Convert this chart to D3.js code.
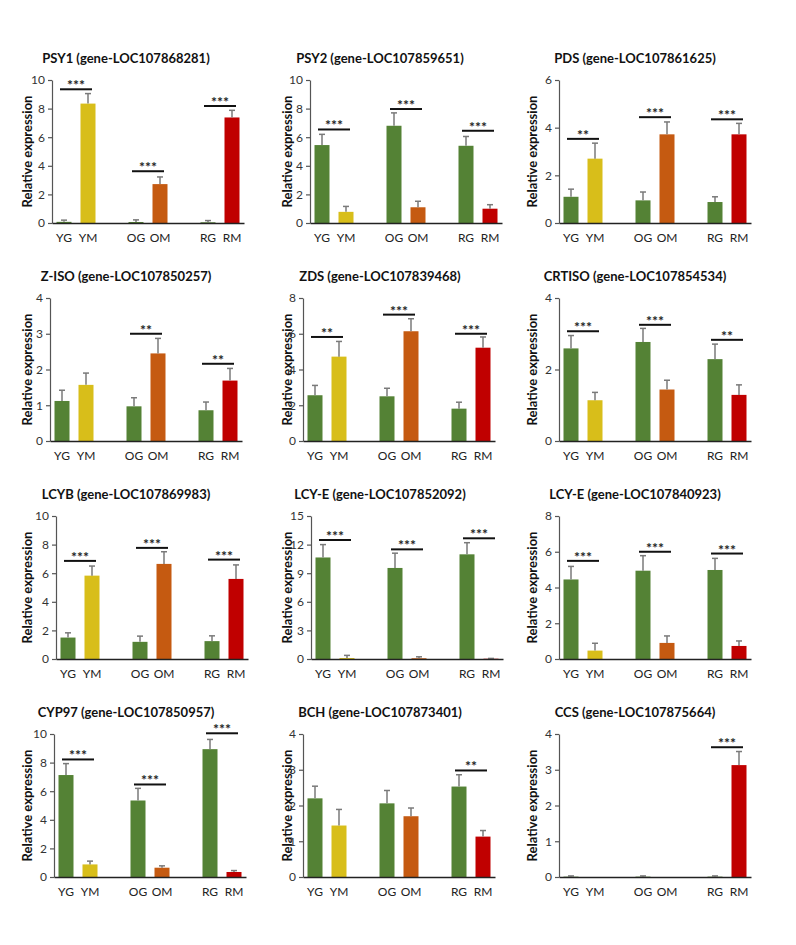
<!DOCTYPE html>
<html>
<head>
<meta charset="utf-8">
<script src="https://cdn.jsdelivr.net/npm/d3@7"></script>
<style>
  html, body { margin: 0; padding: 0; background: #fff; }
  svg { display: block; }
</style>
</head>
<body>
<svg id="chart" width="796" height="945"></svg>
<script>
// ---------------- DATA ----------------
const categories = ["YG", "YM", "OG", "OM", "RG", "RM"];
const genes = [
  "PSY1 (gene-LOC107868281)", "PSY2 (gene-LOC107859651)", "PDS (gene-LOC107861625)",
  "Z-ISO (gene-LOC107850257)", "ZDS (gene-LOC107839468)", "CRTISO (gene-LOC107854534)",
  "LCYB (gene-LOC107869983)", "LCY-E (gene-LOC107852092)", "LCY-E (gene-LOC107840923)",
  "CYP97 (gene-LOC107850957)", "BCH (gene-LOC107873401)", "CCS (gene-LOC107875664)"
];
const yTicks = [
  [0, 2, 4, 6, 8, 10], [0, 2, 4, 6, 8, 10], [0, 2, 4, 6],
  [0, 1, 2, 3, 4], [0, 2, 4, 6, 8], [0, 2, 4],
  [0, 2, 4, 6, 8, 10], [0, 3, 6, 9, 12, 15], [0, 2, 4, 6, 8],
  [0, 2, 4, 6, 8, 10], [0, 1, 2, 3, 4], [0, 1, 2, 3, 4]
];
const means = [
  [0.08, 8.35, 0.07, 2.72, 0.05, 7.38],
  [5.45, 0.78, 6.80, 1.10, 5.40, 1.00],
  [1.10, 2.70, 0.95, 3.72, 0.88, 3.72],
  [1.12, 1.57, 0.97, 2.45, 0.86, 1.69],
  [2.56, 4.72, 2.50, 6.14, 1.81, 5.22],
  [2.59, 1.14, 2.77, 1.44, 2.29, 1.29],
  [1.50, 5.83, 1.20, 6.65, 1.25, 5.60],
  [10.65, 0.10, 9.55, 0.08, 10.98, 0.03],
  [4.45, 0.47, 4.94, 0.90, 4.98, 0.73],
  [7.13, 0.88, 5.35, 0.65, 8.94, 0.35],
  [2.20, 1.44, 2.06, 1.70, 2.53, 1.13],
  [0.01, 0.00, 0.01, 0.00, 0.01, 3.13]
];
const errors = [
  [0.12, 0.70, 0.15, 0.50, 0.12, 0.50],
  [0.75, 0.38, 0.90, 0.42, 0.65, 0.28],
  [0.32, 0.65, 0.35, 0.52, 0.22, 0.46],
  [0.30, 0.33, 0.24, 0.42, 0.23, 0.34],
  [0.55, 0.85, 0.45, 0.70, 0.36, 0.60],
  [0.36, 0.22, 0.38, 0.26, 0.42, 0.28],
  [0.33, 0.67, 0.40, 0.85, 0.37, 0.98],
  [1.35, 0.28, 1.55, 0.15, 1.22, 0.03],
  [0.73, 0.41, 0.84, 0.39, 0.65, 0.28],
  [0.80, 0.23, 0.85, 0.13, 0.68, 0.10],
  [0.34, 0.45, 0.36, 0.23, 0.33, 0.17],
  [0.02, 0.00, 0.02, 0.00, 0.02, 0.38]
];
// significance per panel: [firstCategory, secondCategory, stars, heightOfBar]
const significance = [
  [["YG", "YM", "***", 9.35], ["OG", "OM", "***", 3.62], ["RG", "RM", "***", 8.18]],
  [["YG", "YM", "***", 6.54], ["OG", "OM", "***", 7.97], ["RG", "RM", "***", 6.45]],
  [["YG", "YM", "**", 3.53], ["OG", "OM", "***", 4.44], ["RG", "RM", "***", 4.35]],
  [["OG", "OM", "**", 3.0], ["RG", "RM", "**", 2.16]],
  [["YG", "YM", "**", 5.82], ["OG", "OM", "***", 7.07], ["RG", "RM", "***", 6.0]],
  [["YG", "YM", "***", 3.07], ["OG", "OM", "***", 3.25], ["RG", "RM", "**", 2.83]],
  [["YG", "YM", "***", 6.86], ["OG", "OM", "***", 7.77], ["RG", "RM", "***", 6.95]],
  [["YG", "YM", "***", 12.48], ["OG", "OM", "***", 11.5], ["RG", "RM", "***", 12.66]],
  [["YG", "YM", "***", 5.49], ["OG", "OM", "***", 6.0], ["RG", "RM", "***", 5.9]],
  [["YG", "YM", "***", 8.22], ["OG", "OM", "***", 6.47], ["RG", "RM", "***", 10.05]],
  [["RG", "RM", "**", 2.98]],
  [["RG", "RM", "***", 3.63]]
];
const yLabel = "Relative expression";

// ---------------- LAYOUT / STYLE ----------------
const colors = { YG: "#548235", OG: "#548235", RG: "#548235", YM: "#D8BE1A", OM: "#C55A11", RM: "#C00000" };
const panelLeft = [52, 310, 559, 50, 303, 559, 56, 311, 559, 54, 303, 559];
const rowTop = [80, 298, 516, 734];
const plotH = 143;
const colTitleX = [126, 380, 635];
const colLabelX = [27, 287, 532];
const FONT = "Lato, 'Open Sans', Arial, sans-serif";

const slots = ["YG", "YM", "_a", "OG", "OM", "_b", "RG", "RM"];
const x = d3.scaleBand().domain(slots).range([0, 192]).paddingInner(0.375).paddingOuter(0.1875);

const svg = d3.select("#chart");
svg.append("rect").attr("width", 796).attr("height", 945).attr("fill", "#fff");

genes.forEach((gene, i) => {
  const row = Math.floor(i / 3), col = i % 3;
  const left = panelLeft[i], top = rowTop[row];
  const ticks = yTicks[i];
  const y = d3.scaleLinear().domain([0, ticks[ticks.length - 1]]).range([plotH, 0]);

  // title
  svg.append("text")
    .attr("x", colTitleX[col]).attr("y", top - 22)
    .attr("text-anchor", "middle").attr("dominant-baseline", "central")
    .attr("font-family", FONT).attr("font-weight", "bold").attr("font-size", 13)
    .attr("fill", "#111").text(gene);

  // y label
  svg.append("text")
    .attr("transform", `translate(${colLabelX[col]},${top + plotH / 2}) rotate(-90)`)
    .attr("text-anchor", "middle").attr("dominant-baseline", "central")
    .attr("font-family", FONT).attr("font-weight", "bold").attr("font-size", 13)
    .attr("fill", "#111").text(yLabel);

  const g = svg.append("g").attr("transform", `translate(${left},${top})`);

  // bars
  const data = categories.map((c, k) => ({ c, v: means[i][k], e: errors[i][k] }));
  g.selectAll("rect.bar").data(data).enter().append("rect")
    .attr("class", "bar")
    .attr("x", d => x(d.c)).attr("width", x.bandwidth())
    .attr("y", d => y(d.v)).attr("height", d => plotH - y(d.v))
    .attr("fill", d => colors[d.c]);

  // error bars (upper)
  const eb = g.selectAll("g.err").data(data.filter(d => d.e > 0)).enter().append("g").attr("class", "err");
  eb.append("line")
    .attr("x1", d => x(d.c) + x.bandwidth() / 2).attr("x2", d => x(d.c) + x.bandwidth() / 2)
    .attr("y1", d => y(d.v)).attr("y2", d => y(d.v + d.e))
    .attr("stroke", "#7a7a7a").attr("stroke-width", 1.5);
  eb.append("line")
    .attr("x1", d => x(d.c) + x.bandwidth() / 2 - 3).attr("x2", d => x(d.c) + x.bandwidth() / 2 + 3)
    .attr("y1", d => y(d.v + d.e)).attr("y2", d => y(d.v + d.e))
    .attr("stroke", "#7a7a7a").attr("stroke-width", 1.5);

  // y axis
  const ya = g.append("g").call(d3.axisLeft(y).tickValues(ticks).tickFormat(d3.format("d"))
    .tickSize(4).tickSizeOuter(0).tickPadding(3));
  ya.select(".domain").attr("stroke", "#555").attr("stroke-width", 1.2);
  ya.selectAll(".tick line").attr("stroke", "#555").attr("stroke-width", 1.2);
  ya.selectAll(".tick text").attr("font-family", FONT).attr("font-size", 12).attr("fill", "#333");

  // x axis
  const xa = g.append("g").attr("transform", `translate(0,${plotH})`)
    .call(d3.axisBottom(x).tickValues(categories).tickSize(0).tickSizeOuter(0).tickPadding(10));
  xa.select(".domain").attr("stroke", "#222").attr("stroke-width", 1.3);
  xa.selectAll(".tick text").attr("font-family", FONT).attr("font-size", 12).attr("fill", "#222");

  // significance
  significance[i].forEach(([a, b, stars, h]) => {
    const x1 = x(a) + x.bandwidth() / 2 - 4, x2 = x(b) + x.bandwidth() / 2 + 4;
    g.append("line").attr("x1", x1).attr("x2", x2).attr("y1", y(h)).attr("y2", y(h))
      .attr("stroke", "#111").attr("stroke-width", 2);
    g.append("text").attr("x", (x1 + x2) / 2).attr("y", y(h) + 1)
      .attr("text-anchor", "middle")
      .attr("font-family", FONT).attr("font-weight", "bold").attr("font-size", 14)
      .attr("fill", "#222").text(stars);
  });
});
</script>
</body>
</html>
